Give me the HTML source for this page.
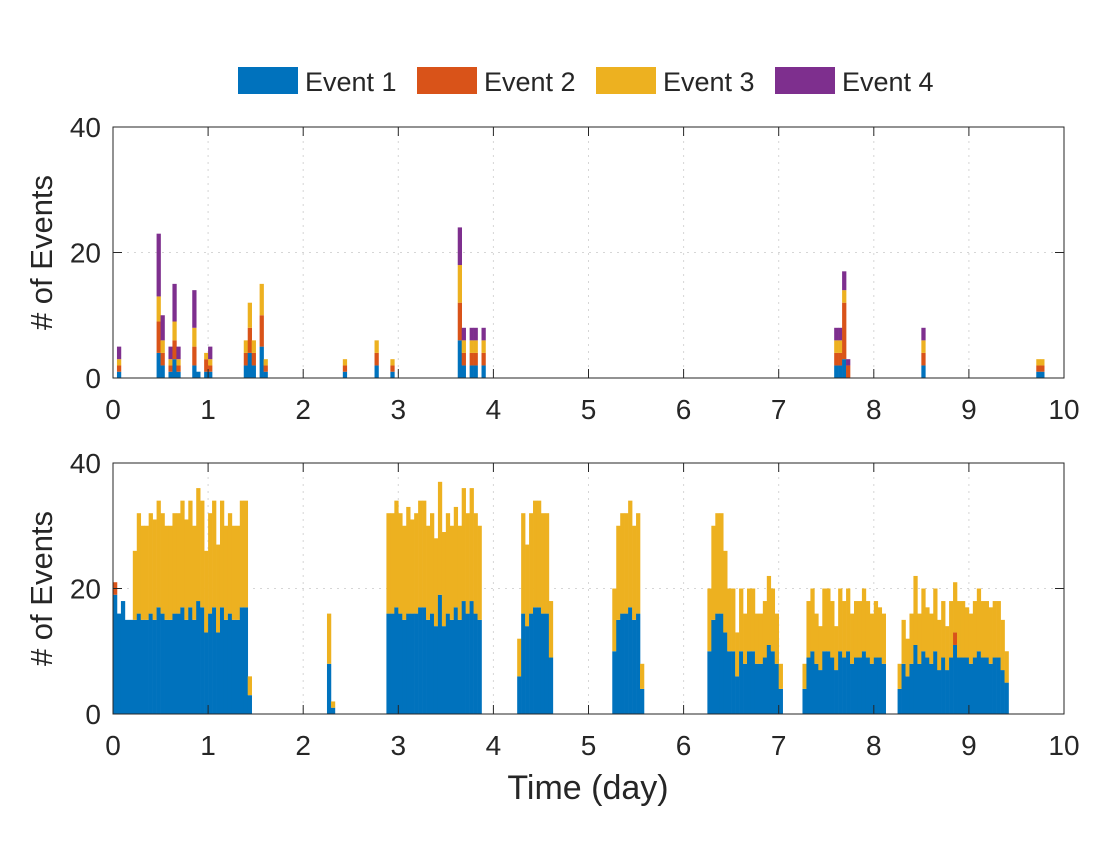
<!DOCTYPE html>
<html><head><meta charset="utf-8"><style>
html,body{margin:0;padding:0;background:#fff;}
svg text{font-family:"Liberation Sans",Arial,sans-serif;fill:#262626;}
</style></head><body>
<svg id="chart" width="1120" height="840" viewBox="0 0 1120 840" xmlns="http://www.w3.org/2000/svg">
<g id="legend">
  <g><rect x="238" y="67" width="60" height="27" fill="#0072BD"/><text x="305" y="91" font-size="27">Event 1</text></g>
  <g><rect x="417" y="67" width="60" height="27" fill="#D95319"/><text x="484" y="91" font-size="27">Event 2</text></g>
  <g><rect x="596" y="67" width="60" height="27" fill="#EDB120"/><text x="663" y="91" font-size="27">Event 3</text></g>
  <g><rect x="775" y="67" width="60" height="27" fill="#7E2F8E"/><text x="842" y="91" font-size="27">Event 4</text></g>
</g>
<g id="top"></g>
<g id="bottom"></g>
<text x="588" y="799" font-size="34" text-anchor="middle">Time (day)</text>
</svg>
<script>
const colors = ["#0072BD","#D95319","#EDB120","#7E2F8E"];
const xTicks = [0,1,2,3,4,5,6,7,8,9,10];
const yTicks = [0,20,40];
const binWidthDays = 1/24;

const topBins = [1,11,12,14,15,16,20,21,23,24,33,34,35,37,38,58,66,70,87,88,90,91,93,182,183,184,185,204,233,234];
const topE1 = [1,4,2,1,3,1,2,1,1,1,2,4,2,5,1,1,2,1,6,2,2,2,2,2,2,3,0,2,1,1];
const topE2 = [1,5,2,1,3,1,3,0,2,1,2,4,2,5,1,1,2,1,6,2,2,2,2,2,2,9,2,2,1,1];
const topE3 = [1,4,2,1,3,1,3,0,1,1,2,4,2,5,1,1,2,1,6,2,2,2,2,2,2,2,0,2,1,1];
const topE4 = [2,10,4,2,6,2,6,0,0,2,0,0,0,0,0,0,0,0,6,2,2,2,2,2,2,3,1,2,0,0];

const bottomBins = [0,1,2,3,4,5,6,7,8,9,10,11,12,13,14,15,16,17,18,19,20,21,22,23,24,25,26,27,28,29,30,31,32,33,34,
54,55,
69,70,71,72,73,74,75,76,77,78,79,80,81,82,83,84,85,86,87,88,89,90,91,92,
102,103,104,105,106,107,108,109,110,
126,127,128,129,130,131,132,133,
150,151,152,153,154,155,156,157,158,159,160,161,162,163,164,165,166,167,168,
174,175,176,177,178,179,180,181,182,183,184,185,186,187,188,189,190,191,192,193,194,
198,199,200,201,202,203,204,205,206,207,208,209,210,211,212,213,214,215,216,217,218,219,220,221,222,223,224,225];
const bottomE1 = [19,16,18,15,15,15,16,15,15,16,15,17,16,15,15,16,16,17,15,17,15,18,17,13,16,17,13,17,15,16,15,15,17,17,3,
8,1,
16,16,17,16,15,16,16,16,17,17,15,16,14,19,14,16,15,17,15,18,16,18,16,15,
6,16,14,16,17,17,16,16,9,
10,15,16,16,17,15,16,4,
10,15,16,16,13,10,10,6,10,8,10,10,8,8,9,11,10,8,4,
4,9,10,8,7,10,10,9,7,10,9,10,8,9,9,10,9,8,9,9,8,
4,8,6,8,11,8,10,9,8,10,7,9,7,9,11,9,9,9,8,9,10,9,9,8,9,9,7,5];
const bottomE2Bins = [0,212];
const bottomE2Vals = [2,2];
const bottomTotal = [21,16,18,15,15,26,32,30,30,32,31,34,32,30,30,32,32,34,31,34,30,36,34,26,32,34,27,34,30,32,30,30,34,34,6,
16,2,
32,32,34,32,30,33,31,32,34,34,30,32,28,37,29,32,30,33,30,36,32,36,32,30,
12,32,27,32,34,34,32,32,18,
20,30,32,32,34,30,32,8,
20,30,32,32,26,20,20,13,20,16,20,20,16,16,18,22,20,16,8,
8,18,20,16,14,20,20,18,14,20,18,20,16,18,18,20,18,16,18,17,16,
8,15,12,16,22,16,20,17,16,20,15,18,14,18,21,18,18,17,16,18,20,18,18,17,18,18,15,10];

const NS = "http://www.w3.org/2000/svg";
function mk(tag, attrs, parent){const e=document.createElementNS(NS,tag);for(const k in attrs)e.setAttribute(k,attrs[k]);parent.appendChild(e);return e;}

function drawAxes(g, top, bottom){
  const left=113,right=1064;
  const xs=d=>left+(d/10)*(right-left);
  const ys=v=>bottom-(v/40)*(bottom-top);
  xTicks.forEach(t=>{ if(t>0&&t<10){ const l=mk('line',{x1:xs(t),x2:xs(t),y1:top,y2:bottom,stroke:'#d6d6d6','stroke-width':1,'stroke-dasharray':'2,5'},g);
    
    }});
  yTicks.forEach(t=>{ if(t>0&&t<40){ const l=mk('line',{x1:left,x2:right,y1:ys(t),y2:ys(t),stroke:'#d6d6d6','stroke-width':1,'stroke-dasharray':'2,5'},g);
    
    }});
  return {xs,ys,left,right};
}
function finishAxes(g, top, bottom, ax){
  const {xs,ys,left,right}=ax;
  const box=mk('rect',{x:left,y:top,width:right-left,height:bottom-top,fill:'none',stroke:'#262626','stroke-width':1},g);
  
  
  xTicks.forEach(t=>{
    mk('line',{x1:xs(t),x2:xs(t),y1:bottom,y2:bottom-9,stroke:'#262626'},g);
    mk('line',{x1:xs(t),x2:xs(t),y1:top,y2:top+9,stroke:'#262626'},g);
    const tx=mk('text',{x:xs(t),y:bottom+41,'font-size':28,'text-anchor':'middle'},g);
    tx.textContent=t;
    
    
  });
  yTicks.forEach(t=>{
    mk('line',{x1:left,x2:left+9,y1:ys(t),y2:ys(t),stroke:'#262626'},g);
    mk('line',{x1:right,x2:right-9,y1:ys(t),y2:ys(t),stroke:'#262626'},g);
    const tx=mk('text',{x:101,y:ys(t)+10,'font-size':28,'text-anchor':'end'},g);
    tx.textContent=t;
    
    
  });
  const cy=(top+bottom)/2;
  const yl=mk('text',{x:52,y:cy,'font-size':31,'text-anchor':'middle',transform:'rotate(-90 52 '+cy+')'},g);
  yl.textContent='# of Events';
  
  
}
function bar(g, ax, bin, v0, v1, color){
  if(v1<=v0) return;
  const x0=ax.xs(bin*binWidthDays), x1=ax.xs((bin+1)*binWidthDays);
  const r=mk('rect',{x:x0,y:ax.ys(v1),width:x1-x0+0.3,height:ax.ys(v0)-ax.ys(v1),fill:color},g);
  
  
}

const gTop=document.getElementById('top');
const axT=drawAxes(gTop,127,378);
topBins.forEach((b,i)=>{
  const s=[topE1[i],topE2[i],topE3[i],topE4[i]];
  let c=0; s.forEach((v,k)=>{bar(gTop,axT,b,c,c+v,colors[k]);c+=v;});
});
finishAxes(gTop,127,378,axT);

const gBot=document.getElementById('bottom');
const axB=drawAxes(gBot,463,714);
bottomBins.forEach((b,i)=>{
  const j=bottomE2Bins.indexOf(b);
  const e2=j>=0?bottomE2Vals[j]:0;
  const e1=bottomE1[i];
  const e3=Math.max(0,bottomTotal[i]-e1-e2);
  const s=[e1,e2,e3,0];
  let c=0; s.forEach((v,k)=>{bar(gBot,axB,b,c,c+v,colors[k]);c+=v;});
});
finishAxes(gBot,463,714,axB);
</script>
</body></html>
